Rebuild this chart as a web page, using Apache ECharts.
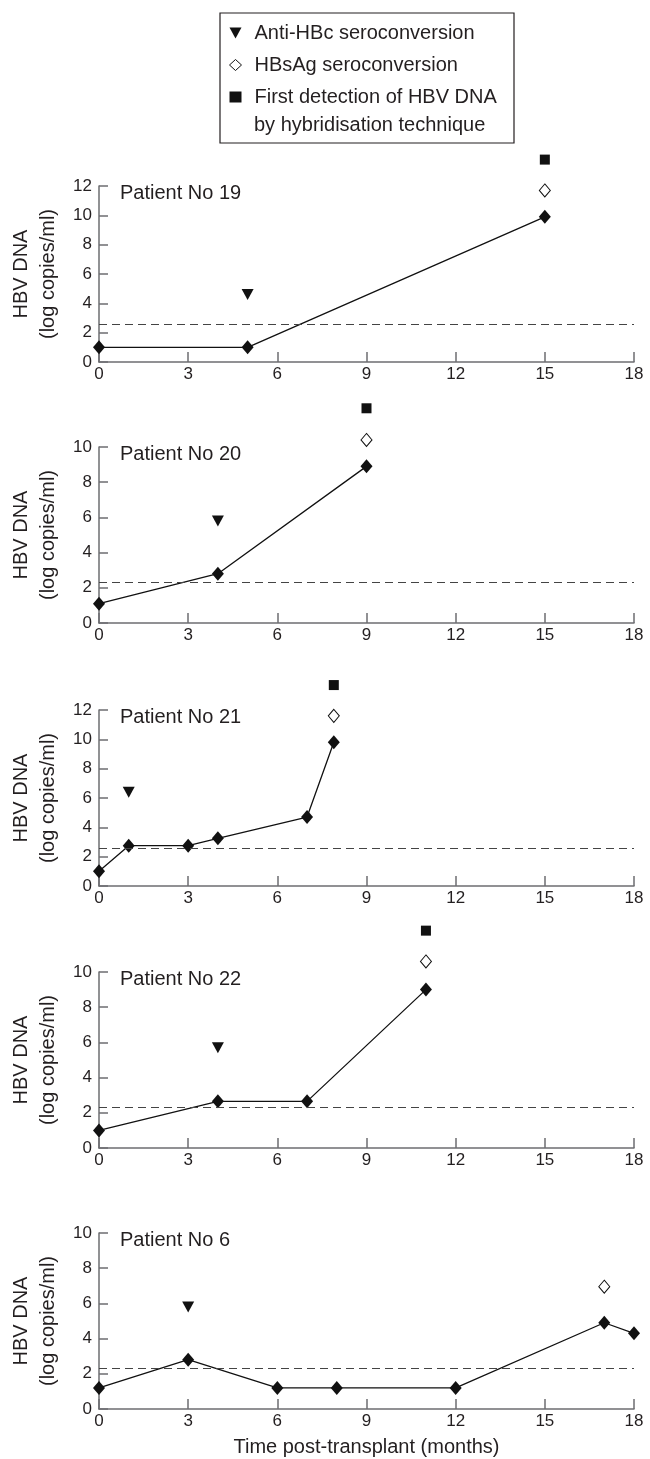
<!DOCTYPE html>
<html>
<head>
<meta charset="utf-8">
<script src="https://cdn.jsdelivr.net/npm/echarts/dist/echarts.min.js"></script>
<style>
  html, body { margin: 0; padding: 0; background: #fff; }
  #main { width: 650px; height: 1459px; }
</style>
</head>
<body>
<div id="main"></div>
<script>
// panels, top to bottom
var patientNames = ['Patient No 19', 'Patient No 20', 'Patient No 21', 'Patient No 22', 'Patient No 6'];
var yMax = [12, 10, 12, 10, 10];
var cutoff = [2.6, 2.3, 2.6, 2.3, 2.3];

// HBV DNA course (months post-transplant, log copies/ml)
var months19 = [0, 5, 15],                 dna19 = [1.0, 1.0, 9.9];
var months20 = [0, 4, 9],                  dna20 = [1.1, 2.8, 8.9];
var months21 = [0, 1, 3, 4, 7, 7.9],       dna21 = [1.0, 2.75, 2.75, 3.25, 4.7, 9.8];
var months22 = [0, 4, 7, 11],              dna22 = [1.0, 2.65, 2.65, 9.0];
var months6  = [0, 3, 6, 8, 12, 17, 18],   dna6  = [1.2, 2.8, 1.2, 1.2, 1.2, 4.9, 4.3];

var allMonths = [months19, months20, months21, months22, months6];
var allDna = [dna19, dna20, dna21, dna22, dna6];

// event markers [month, drawn height]
var antiHBc     = [[5, 4.6], [4, 5.8], [1, 6.4], [4, 5.7], [3, 5.8]];
var hbsAg       = [[15, 11.7], [9, 10.4], [7.9, 11.6], [11, 10.6], [17, 6.95]];
var firstDetect = [[15, 13.8], [9, 12.2], [7.9, 13.7], [11, 12.35], null];

var NAME_ANTI = 'Anti-HBc seroconversion';
var NAME_HBS = 'HBsAg seroconversion';
var NAME_FIRST = 'First detection of HBV DNA by hybridisation technique';

var font = 'Liberation Sans, Arial, sans-serif';
var ink = '#231f20';
var axisGrey = '#6d6e71';
var gridTop = [186, 447, 710, 972, 1233];
var downTriangle = 'path://M0,0L12,0L6,11Z';

var grids = [], xAxes = [], yAxes = [], titles = [], series = [];

for (var i = 0; i < 5; i++) {
  grids.push({ left: 99, right: 16, top: gridTop[i], height: 176, outerBoundsMode: 'none' });
  titles.push({
    text: patientNames[i], left: 120, top: gridTop[i] - 3, padding: 0,
    textStyle: { fontSize: 20, fontWeight: 'normal', color: ink, fontFamily: font }
  });
  xAxes.push({
    type: 'value', gridIndex: i, min: 0, max: 18, interval: 3,
    name: i === 4 ? 'Time post-transplant (months)' : '',
    nameLocation: 'middle', nameGap: 28,
    nameTextStyle: { fontSize: 20, color: ink, fontFamily: font },
    axisLine: { show: true, lineStyle: { color: axisGrey, width: 1.5 } },
    axisTick: { show: true, inside: true, length: 10, lineStyle: { color: axisGrey, width: 1.5 } },
    axisLabel: { margin: 4, fontSize: 17, color: ink, fontFamily: font },
    splitLine: { show: false }
  });
  yAxes.push({
    type: 'value', gridIndex: i, min: 0, max: yMax[i], interval: 2,
    name: 'HBV DNA\n(log copies/ml)',
    nameLocation: 'middle', nameGap: 26,
    nameTextStyle: { fontSize: 20, color: ink, fontFamily: font, lineHeight: 27 },
    axisLine: { show: true, lineStyle: { color: axisGrey, width: 1.5 } },
    axisTick: { show: true, inside: true, length: 9, lineStyle: { color: axisGrey, width: 1.5 } },
    axisLabel: { margin: 7, fontSize: 17, color: ink, fontFamily: font },
    splitLine: { show: false }
  });

  var pts = allMonths[i].map(function (m, k) { return [m, allDna[i][k]]; });
  series.push({
    name: 'HBV DNA', type: 'line', xAxisIndex: i, yAxisIndex: i,
    data: pts, symbol: 'diamond', symbolSize: [12, 14],
    itemStyle: { color: '#111', opacity: 1 },
    lineStyle: { color: '#111', width: 1.3 },
    animation: false,
    markLine: {
      silent: true, symbol: 'none', label: { show: false },
      lineStyle: { color: '#444', width: 1.1, type: [8, 5] },
      data: [{ yAxis: cutoff[i] }]
    }
  });
  series.push({
    name: NAME_ANTI, type: 'scatter', xAxisIndex: i, yAxisIndex: i, clip: false,
    data: [antiHBc[i]], symbol: downTriangle, symbolSize: [12, 11],
    itemStyle: { color: '#111', opacity: 1 }, animation: false
  });
  series.push({
    name: NAME_HBS, type: 'scatter', xAxisIndex: i, yAxisIndex: i, clip: false,
    data: [hbsAg[i]], symbol: 'diamond', symbolSize: [11, 13],
    itemStyle: { color: '#fff', borderColor: '#111', borderWidth: 1, opacity: 1 }, animation: false
  });
  series.push({
    name: NAME_FIRST, type: 'scatter', xAxisIndex: i, yAxisIndex: i, clip: false,
    data: firstDetect[i] ? [firstDetect[i]] : [], symbol: 'rect', symbolSize: 10,
    itemStyle: { color: '#111', opacity: 1 }, animation: false
  });
}

var chart = echarts.init(document.getElementById('main'), null, { renderer: 'canvas' });
chart.setOption({
  backgroundColor: '#fff',
  animation: false,
  title: titles,
  legend: {
    orient: 'vertical', left: 229, top: 23, padding: 0,
    itemWidth: 12, itemHeight: 11, itemGap: 12,
    selectedMode: false,
    data: [
      { name: NAME_ANTI, icon: downTriangle },
      { name: NAME_HBS, icon: 'diamond', itemStyle: { color: '#fff', borderColor: '#111', borderWidth: 1 } },
      { name: NAME_FIRST, icon: 'rect' }
    ],
    formatter: function (n) { return n.split(' by ')[0]; },
    textStyle: { fontSize: 20, lineHeight: 20, color: ink, fontFamily: font, padding: [0, 0, 0, 8] }
  },
  graphic: [
    { type: 'rect', shape: { x: 220, y: 13, width: 294, height: 130 },
      style: { fill: 'none', stroke: ink, lineWidth: 1.2 } },
    { type: 'text', x: 254, y: 125,
      style: { text: 'by hybridisation technique', fontSize: 20, fill: ink, fontFamily: font, verticalAlign: 'middle' } }
  ],
  grid: grids,
  xAxis: xAxes,
  yAxis: yAxes,
  series: series
});
</script>
</body>
</html>
